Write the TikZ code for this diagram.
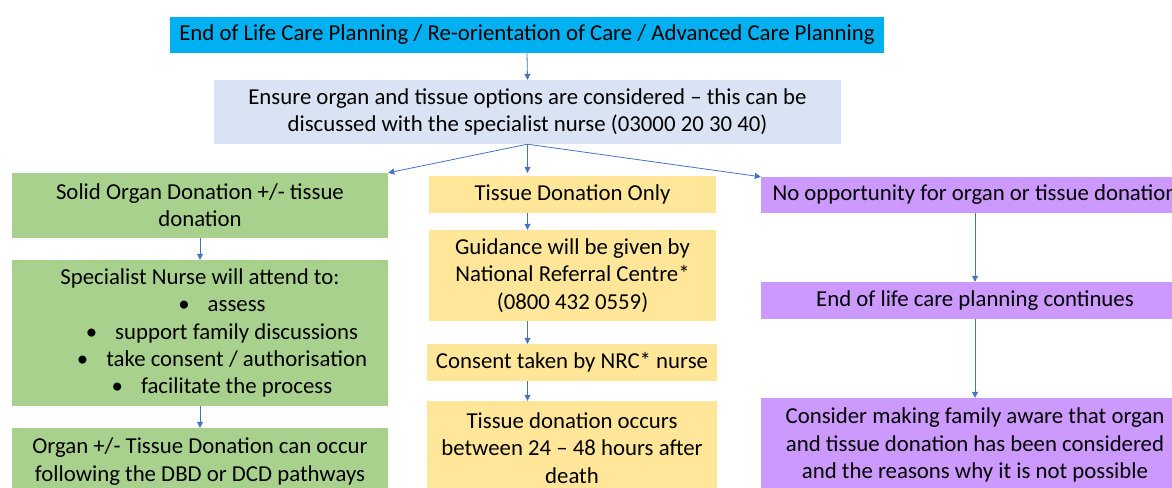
\documentclass[tikz,border=0pt]{standalone}
\usepackage{fontspec}
\setmainfont{Carlito}
\usepackage{tikz}
\usetikzlibrary{positioning, arrows.meta}
\usepackage{xcolor}
\definecolor{planblue}{HTML}{00B0F0}
\definecolor{optblue}{HTML}{DAE3F3}
\definecolor{organgreen}{HTML}{A9D18E}
\definecolor{tissueyellow}{HTML}{FFE699}
\definecolor{nonepurple}{HTML}{CC99FF}
\definecolor{linkblue}{HTML}{4472C4}

\begin{document}
\begin{tikzpicture}[x=1pt, y=-1pt,
        box/.style={rectangle, inner sep=0pt, align=center, text=black,
            font=\fontsize{22.8}{27.3}\selectfont},
        link/.style={draw=linkblue, line width=0.8pt, -{Triangle[length=6pt,width=6pt]}}]
        % page size and crop of the boxes at the bottom and right
        \useasboundingbox (0,0) rectangle (1172,487);
        \clip (0,0) rectangle (1172,487);

        % top of the chart
        \node[box, fill=planblue, minimum width=714pt, minimum height=36pt] (plan) at (527,35)
            {End of Life Care Planning / Re-orientation of Care / Advanced Care Planning};
        \node[box, fill=optblue, minimum width=627pt, minimum height=64pt] (ensure) at (527.5,112)
            {Ensure organ and tissue options are considered -- this can be\\
             discussed with the specialist nurse (03000 20 30 40)};

        % left column (organ donation)
        \node[box, fill=organgreen, minimum width=376pt, minimum height=65pt] (solid) at (200,205.5)
            {Solid Organ Donation +/- tissue\\ donation};
        \node[box, fill=organgreen, minimum width=376pt, minimum height=146pt] (nurse) at (200,333)
            {Specialist Nurse will attend to:\\
             \hspace*{44pt}\textbullet\hspace{18pt}assess\\
             \hspace*{44pt}\textbullet\hspace{18pt}support family discussions\\
             \hspace*{44pt}\textbullet\hspace{18pt}take consent / authorisation\\
             \hspace*{44pt}\textbullet\hspace{18pt}facilitate the process};
        \node[box, fill=organgreen, minimum width=376pt, minimum height=67pt] (occur) at (200,461.5)
            {Organ +/- Tissue Donation can occur\\ following the DBD or DCD pathways};

        % middle column (tissue only)
        \node[box, fill=tissueyellow, minimum width=287pt, minimum height=37pt] (tonly) at (572.5,194.5)
            {Tissue Donation Only};
        \node[box, fill=tissueyellow, minimum width=287pt, minimum height=91pt] (guide) at (572.5,275.5)
            {Guidance will be given by\\ National Referral Centre*\\ (0800 432 0559)};
        \node[box, fill=tissueyellow, minimum width=290pt, minimum height=37pt] (consent) at (572,362.5)
            {Consent taken by NRC* nurse};
        \node[box, fill=tissueyellow, minimum width=290pt, minimum height=94pt] (tissue) at (572,448)
            {Tissue donation occurs\\ between 24 -- 48 hours after\\ death};

        % right column (no donation)
        \node[box, fill=nonepurple, minimum width=428pt, minimum height=36pt] (noopp) at (975,195)
            {No opportunity for organ or tissue donation};
        \node[box, fill=nonepurple, minimum width=428pt, minimum height=37pt] (eolc) at (975,300.5)
            {End of life care planning continues};
        \node[box, fill=nonepurple, minimum width=428pt, minimum height=94pt] (consider) at (975,445)
            {Consider making family aware that organ\\
             and tissue donation has been considered\\
             and the reasons why it is not possible};

        % connectors
        \draw[link] (plan.south) -- (ensure.north);
        \draw[link] (ensure.south) -- (solid.north east);
        \draw[link, shorten >=3pt] (ensure.south) -- (tonly.north -| ensure.south);
        \draw[link] (ensure.south) -- (noopp.north west);
        \draw[link] (solid.south) -- (nurse.north);
        \draw[link] (nurse.south) -- (occur.north);
        \draw[link] (tonly.south -| ensure.south) -- (guide.north -| ensure.south);
        \draw[link] (guide.south -| ensure.south) -- (consent.north -| ensure.south);
        \draw[link] (consent.south -| ensure.south) -- (tissue.north -| ensure.south);
        \draw[link] (noopp.south) -- (eolc.north);
        \draw[link] (eolc.south) -- (consider.north);
\end{tikzpicture}
\end{document}
